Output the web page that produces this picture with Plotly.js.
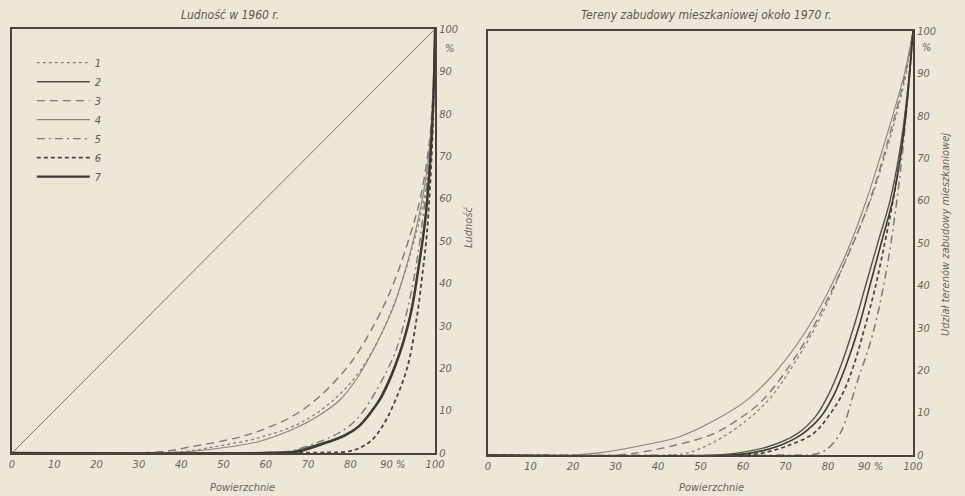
<!DOCTYPE html>
<html>
<head>
<meta charset="utf-8">
<script src="https://cdn.plot.ly/plotly-3.0.1.min.js"></script>
<style>html,body{margin:0;padding:0;background:#ede7d7;}#chart{width:965px;height:496px;}</style>
</head>
<body>
<div id="chart"></div>
<script>
// ---- data (share of area X %, cumulative share Y %) ----
const seriesNames = ["1","2","3","4","5","6","7"];
const xTickVals = [0,10,20,30,40,50,60,70,80,90,100];
const xTickText = ["0","10","20","30","40","50","60","70","80","90 %","100"];
const yTickVals = [0,10,20,30,40,50,60,70,80,90,100];
const yTickText = ["0","10","20","30","40","50","60","70","80","90","100"];

const diagX = [0,100];
const diagY = [0,100];

// Left panel: Ludność w 1960 r.
const L1x = [0,40,48,58,68,76,82,87,91,94.5,97,98.8,99.6,100];
const L1y = [0,0.3,1.5,3.5,7,12.5,19,27.5,37,48,58,70,84,100];
const L2x = [0,62,66,73.5,77.5,81.5,84.5,87,91,94,95.8,97.5,98.7,99.5,100];
const L2y = [0,0.1,0.3,2.4,3.8,6,9.3,13,22,32,42,54,67,82,100];
const L3x = [0,35,42,54,60,66,70.5,74.5,80.6,86,90,94,96.5,98.5,99.5,100];
const L3y = [0,0.3,1.4,3.8,5.8,8.5,11.5,15,22,31,39.5,51,60,72,85,100];
const L4x = [0,40,48,58,66,72,77.5,81.5,85,90,93.5,96,98,99.3,100];
const L4y = [0,0.2,1,2.6,5.4,8.5,12.5,17.5,23.5,34,45,55,66,80,100];
const L5x = [0,60,66,73,77,80.5,83.5,86,90.5,93.5,95.5,97.2,98.6,99.5,100];
const L5y = [0,0.1,0.5,2.8,4.6,7,10.5,14.5,23.5,34,44,56,69,84,100];
const L6x = [0,72,79,82,85,87.5,90,93.4,95.7,97,98.1,99.2,99.7,100];
const L6y = [0,0.1,0.3,1.1,3,6.2,11,20,32,42,52,70,85,100];
const L7x = [0,64,68,74.5,78.5,82,85,87.5,91.5,94.3,96,97.7,98.8,99.6,100];
const L7y = [0,0.1,0.4,2.5,4,6.3,9.8,13.5,23,33,43,55,68,83,100];

// Right panel: Tereny zabudowy mieszkaniowej około 1970 r.
const R1x = [0,42,47,54,61,66,70.4,78,85,90,93.5,96.3,98.4,100];
const R1y = [0,0,0.5,3.5,8.3,13,19,32,48,60,71,81,90,100];
const R2x = [0,54,59,66,72.7,77,80,83,86,89,92,94.6,96.6,98.3,100];
const R2y = [0,0,0.5,2,5,9,14,21,30,40.5,51,60,70,82,100];
const R3x = [0,30,35,44,53,59,64.7,73.4,80.5,86.8,90.5,93.5,96,98.2,100];
const R3y = [0,0,0.5,2.3,5,8.5,13,24.8,38,52,62,72,81,90,100];
const R4x = [0,20,26,35,45,53,61,68.7,76.5,84.5,89,92.5,95.5,98,100];
const R4y = [0,0,0.5,2,4.3,8,13,20.8,32,48,60,71,81,90,100];
const R5x = [0,72,76.5,79.5,82.8,86.8,90.6,93.9,96.2,97.6,98.9,100];
const R5y = [0,0,0.1,1.2,5,17,28.8,44.4,60,72,86,100];
const R6x = [0,60,64.7,70,76.5,80,83.5,86,88.3,90.5,92.2,95.3,97.2,98.7,100];
const R6y = [0,0,0.5,2,5,9,14.6,21,28.8,37,44.4,60,72,85,100];
const R7x = [0,57,62,68,74,78.3,81.3,84.2,87.2,90,92.8,95.2,97,98.5,100];
const R7y = [0,0,0.5,2,5,9,14,21,30,40.5,51,60,70,82,100];

// ---- styles ----
const styles = [
  {color:'#8a857a', width:1.3, dash:'dot'},
  {color:'#55504a', width:1.5, dash:'solid'},
  {color:'#7f7a70', width:1.4, dash:'8px,5px'},
  {color:'#8a857a', width:1.1, dash:'solid'},
  {color:'#7f7a70', width:1.4, dash:'8px,4px,2px,4px'},
  {color:'#4a453e', width:1.8, dash:'4px,3px'},
  {color:'#3e3a33', width:2.4, dash:'solid'}
];
const rightWidths = [1.3, 1.4, 1.4, 1.1, 1.5, 1.7, 1.6];

const leftData = [[L1x,L1y],[L2x,L2y],[L3x,L3y],[L4x,L4y],[L5x,L5y],[L6x,L6y],[L7x,L7y]];
const rightData = [[R1x,R1y],[R2x,R2y],[R3x,R3y],[R4x,R4y],[R5x,R5y],[R6x,R6y],[R7x,R7y]];

const traces = [];
traces.push({x:diagX, y:diagY, xaxis:'x', yaxis:'y', mode:'lines', showlegend:false,
  line:{color:'#7a756b', width:1}, hoverinfo:'skip'});
leftData.forEach((d,i)=>{
  traces.push({x:d[0], y:d[1], xaxis:'x', yaxis:'y', mode:'lines', name:seriesNames[i],
    line:Object.assign({shape:'spline', smoothing:1}, styles[i])});
});
rightData.forEach((d,i)=>{
  traces.push({x:d[0], y:d[1], xaxis:'x2', yaxis:'y2', mode:'lines', name:seriesNames[i], showlegend:false,
    line:Object.assign({shape:'spline', smoothing:1}, styles[i], {width:rightWidths[i]})});
});

const FONT = 'DejaVu Sans Condensed, DejaVu Sans, sans-serif';
const tickFont = {family:FONT, size:11, color:'#6a6459', style:'italic'};
const lineCol = '#4a443b';

function xAx(domain, anchor){
  return {domain:domain, anchor:anchor, range:[0,100], showline:true, mirror:true, linecolor:lineCol, linewidth:2,
    showgrid:false, zeroline:false, ticks:'', tickvals:xTickVals, ticktext:xTickText, tickfont:tickFont, fixedrange:true};
}
function yAx(domain, anchor){
  return {domain:domain, anchor:anchor, side:'right', range:[0,100], showline:true, mirror:true, linecolor:lineCol, linewidth:2,
    showgrid:false, zeroline:false, ticks:'', tickvals:yTickVals, ticktext:yTickText, tickfont:tickFont, fixedrange:true};
}

const annFont = {family:FONT, size:12, color:'#5e584e', style:'italic'};
const layout = {
  width:965, height:496,
  paper_bgcolor:'#ede7d7', plot_bgcolor:'#ede7d7',
  margin:{l:12, r:52, t:29, b:41},
  xaxis:xAx([0,0.4695],'y'),
  yaxis:yAx([0.0047,1],'x'),
  xaxis2:xAx([0.5283,1],'y2'),
  yaxis2:yAx([0,0.9953],'x2'),
  showlegend:true,
  legend:{x:0.022, y:0.955, xanchor:'left', yanchor:'top', bgcolor:'rgba(0,0,0,0)', borderwidth:0,
    font:{family:FONT, size:11, color:'#5e584e', style:'italic'}, itemwidth:53, tracegroupgap:0},
  annotations:[
    {text:'Ludność w 1960 r.', xref:'paper', yref:'paper', x:0.242, y:1.033, xanchor:'center', yanchor:'middle', showarrow:false, font:annFont},
    {text:'Tereny zabudowy mieszkaniowej około 1970 r.', xref:'paper', yref:'paper', x:0.771, y:1.033, xanchor:'center', yanchor:'middle', showarrow:false, font:annFont},
    {text:'%', xref:'x domain', yref:'y', x:1, y:95.5, xanchor:'left', yanchor:'middle', xshift:8, showarrow:false, font:tickFont},
    {text:'%', xref:'x2 domain', yref:'y2', x:1, y:96, xanchor:'left', yanchor:'middle', xshift:7, showarrow:false, font:tickFont},
    {text:'Powierzchnie', xref:'paper', yref:'paper', x:(242-12)/901, y:-(487-455)/426, xanchor:'center', yanchor:'middle', showarrow:false, font:tickFont},
    {text:'Powierzchnie', xref:'paper', yref:'paper', x:(711-12)/901, y:-(488-455)/426, xanchor:'center', yanchor:'middle', showarrow:false, font:tickFont},
    {text:'Ludność', xref:'paper', yref:'paper', x:(468-12)/901, y:(455-227)/426, xanchor:'center', yanchor:'middle', textangle:-90, showarrow:false, font:tickFont},
    {text:'Udział terenów zabudowy mieszkaniowej', xref:'paper', yref:'paper', x:(945-12)/901, y:(455-235)/426, xanchor:'center', yanchor:'middle', textangle:-90, showarrow:false, font:tickFont}
  ]
};

Plotly.newPlot('chart', traces, layout, {displayModeBar:false, staticPlot:true});
</script>
</body>
</html>
